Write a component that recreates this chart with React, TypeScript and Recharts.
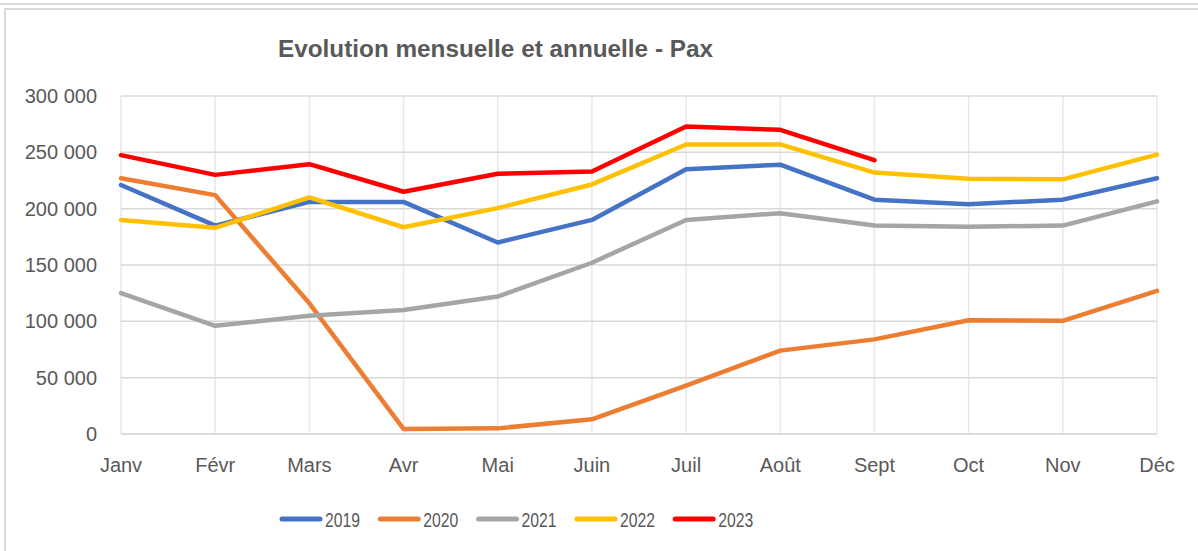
import React from "react";
import { LineChart, Line, XAxis, YAxis, CartesianGrid, Legend } from "recharts";

const months = ["Janv", "Févr", "Mars", "Avr", "Mai", "Juin", "Juil", "Août", "Sept", "Oct", "Nov", "Déc"];
const s2019 = [221000, 185000, 206000, 206000, 170000, 190000, 235000, 239000, 208000, 204000, 208000, 227000];
const s2020 = [227000, 212000, 116000, 4500, 5000, 13000, 43000, 74000, 84000, 101000, 100500, 127000];
const s2021 = [125000, 96000, 105000, 110000, 122000, 152000, 190000, 196000, 185000, 184000, 185000, 206500];
const s2022 = [190000, 183000, 210000, 183500, 200500, 221500, 257000, 257000, 232000, 226500, 226000, 248000];
const s2023: (number | null)[] = [247500, 230000, 239500, 215000, 231000, 233000, 273000, 270000, 243000, null, null, null];
const yTicks = [0, 50000, 100000, 150000, 200000, 250000, 300000];

const seriesNames = ["2019", "2020", "2021", "2022", "2023"];
const seriesColors = ["#4472C4", "#ED7D31", "#A5A5A5", "#FFC000", "#FF0000"];
const seriesValues = [s2019, s2020, s2021, s2022, s2023];

const data = months.map((m, i) => {
  const row: Record<string, any> = { month: m };
  seriesNames.forEach((n, k) => {
    row[n] = seriesValues[k][i];
  });
  return row;
});

const FONT = "'Liberation Sans', Arial, sans-serif";
const TXT = "#595959";
const GRID = "#d9d9d9";
const VGRID = "#e8e8e8";

const fmt = (v: number) => {
  const s = String(Math.round(v));
  return s.replace(/\B(?=(\d{3})+(?!\d))/g, " ");
};

const LegendContent = () => {
  const start = 280;
  const pitch = 98.3;
  return (
    <svg width={1198} height={40} style={{ display: "block" }}>
      {seriesNames.map((n, k) => {
        const x = start + k * pitch;
        return (
          <g key={n}>
            <line x1={x + 2} y1={20} x2={x + 40} y2={20} stroke={seriesColors[k]} strokeWidth={5} strokeLinecap="round" />
            <text x={x + 45} y={28} fontFamily={FONT} fontSize={21} fill={TXT} textLength={35} lengthAdjust="spacingAndGlyphs">
              {n}
            </text>
          </g>
        );
      })}
    </svg>
  );
};

export default function App() {
  return (
    <div style={{ position: "absolute", left: 0, top: 0, width: 1198, height: 551, background: "#fff", overflow: "hidden", fontFamily: FONT }}>
      <div style={{ position: "absolute", left: 0, top: 3, width: 1198, height: 0, borderTop: `2px solid ${GRID}` }} />
      <div style={{ position: "absolute", left: 4, top: 8, width: 1210, height: 560, border: `2px solid ${GRID}`, boxSizing: "border-box" }} />
      <svg width={1198} height={80} style={{ position: "absolute", left: 0, top: 0 }}>
        <text x={495.5} y={57} textAnchor="middle" fontFamily={FONT} fontWeight="bold" fontSize={23} fill={TXT} textLength={435} lengthAdjust="spacingAndGlyphs">
          Evolution mensuelle et annuelle - Pax
        </text>
      </svg>
      <div style={{ position: "absolute", left: 0, top: 0 }}>
        <LineChart width={1198} height={551} data={data} margin={{ top: 96, right: 41, left: 0, bottom: 12 }}>
          <CartesianGrid stroke={VGRID} strokeWidth={1.5} horizontal={false} />
          <CartesianGrid stroke={GRID} strokeWidth={1.5} vertical={false} />
          <XAxis
            dataKey="month"
            tickLine={false}
            tickSize={0}
            tickMargin={24}
            axisLine={{ stroke: GRID, strokeWidth: 1.5 }}
            height={65}
            interval={0}
            tick={{ fill: TXT, fontSize: 20, fontFamily: FONT }}
          />
          <YAxis
            width={121}
            domain={[0, 300000]}
            ticks={yTicks}
            tickFormatter={fmt}
            tickLine={false}
            tickSize={0}
            tickMargin={24}
            axisLine={false}
            interval={0}
            tick={{ fill: TXT, fontSize: 20, fontFamily: FONT }}
          />
          <Legend verticalAlign="bottom" height={40} wrapperStyle={{ left: 0, width: 1198 }} content={<LegendContent />} />
          {seriesNames.map((n, k) => (
            <Line
              key={n}
              type="linear"
              dataKey={n}
              stroke={seriesColors[k]}
              strokeWidth={4.5}
              strokeLinecap="round"
              strokeLinejoin="round"
              dot={false}
              activeDot={false}
              connectNulls={false}
              isAnimationActive={false}
            />
          ))}
        </LineChart>
      </div>
    </div>
  );
}
